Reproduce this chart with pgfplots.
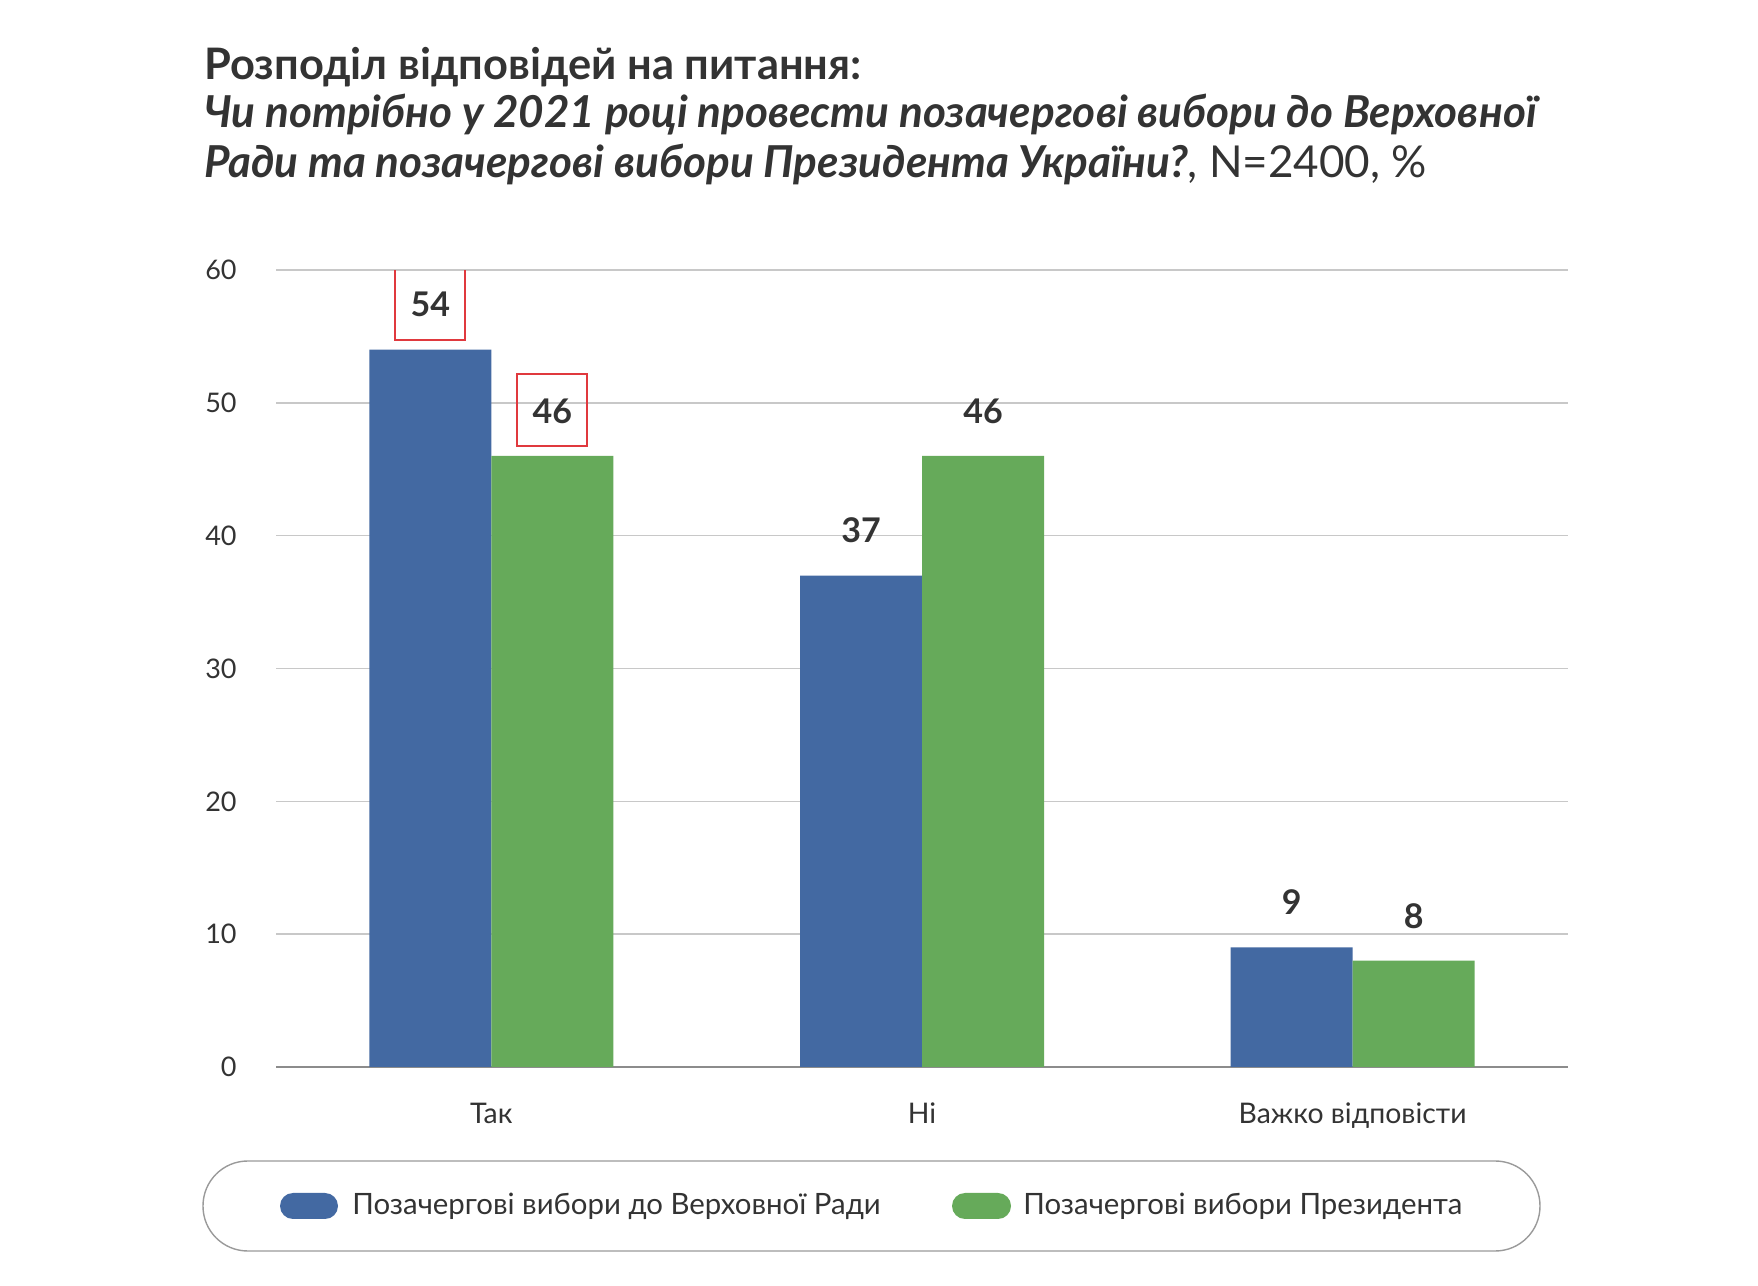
\documentclass[border=0pt]{standalone}
\usepackage{fontspec}
\setmainfont{Lato}
\usepackage{pgfplots}
\pgfplotsset{compat=1.18}
\definecolor{cblue}{HTML}{4369A2}
\definecolor{cgreen}{HTML}{66AA5A}
\definecolor{ctext}{HTML}{333333}
\definecolor{cgrid}{HTML}{C8C8C8}
\definecolor{caxis}{HTML}{8C8C8C}
\definecolor{cred}{HTML}{E0393E}
\definecolor{cbox}{HTML}{9A9A9A}
\begin{document}
\begin{tikzpicture}
\path[use as bounding box] (0,0) rectangle (879pt,643pt);
\node[anchor=base west, inner sep=0, font=\fontsize{21.7}{26}\selectfont\bfseries, text=ctext] at (102pt,603pt) {Розподіл відповідей на питання:};
\node[anchor=base west, inner sep=0, font=\fontsize{22}{26}\selectfont\bfseries\itshape, text=ctext] at (102pt,579pt) {Чи потрібно у 2021 році провести позачергові вибори до Верховної};
\node[anchor=base west, inner sep=0, font=\fontsize{22}{26}\selectfont, text=ctext] at (102pt,554pt) {{\bfseries\itshape Ради та позачергові вибори Президента України?}, N=2400, \%};
\begin{axis}[
  at={(138pt,109.5pt)}, anchor=south west,
  scale only axis, width=646pt, height=398.5pt,
  xmin=-0.5, xmax=2.5, ymin=0, ymax=60,
  ybar=0pt, bar width=61pt,
  axis x line*=bottom, axis y line*=left,
  y axis line style={draw=none},
  x axis line style={caxis, line width=0.8pt, -},
  ytick={0,10,...,60}, ymajorgrids, grid style={cgrid, line width=0.7pt},
  xtick={0,1,2}, xticklabels={Так,Ні,Важко відповісти},
  major tick length=0pt,
  yticklabel style={font=\fontsize{13.5}{13.5}\selectfont, text=ctext, anchor=east, inner sep=0pt, xshift=-19.5pt},
  xticklabel style={font=\fontsize{14.2}{14.2}\selectfont, text=ctext, anchor=base, inner sep=0pt, yshift=-28.5pt},
  /pgf/number format/assume math mode=true,
  nodes near coords,
  nodes near coords style={font=\fontsize{17}{17}\selectfont\bfseries, text=ctext, anchor=center, yshift=22.5pt},
]
\addplot[fill=cblue, draw=none] coordinates {(0,54) (1,37) (2,9)};
\addplot[fill=cgreen, draw=none] coordinates {(0,46) (1,46) (2,8)};
\node[draw=cred, line width=1.1pt, minimum width=35pt, minimum height=36pt, xshift=-30.5pt, yshift=23pt] at (axis cs:0,54) {};
\node[draw=cred, line width=1.1pt, minimum width=35pt, minimum height=36pt, xshift=30.5pt, yshift=23pt] at (axis cs:0,46) {};
\end{axis}
\draw[cbox, line width=0.7pt, rounded corners=22.4pt] (101.5pt,17.5pt) rectangle (770pt,62.5pt);
\fill[cblue, rounded corners=6.5pt] (140pt,33.5pt) rectangle (169pt,46.5pt);
\node[anchor=base west, inner sep=0, font=\fontsize{14.7}{14.7}\selectfont, text=ctext] at (176pt,35.5pt) {Позачергові вибори до Верховної Ради};
\fill[cgreen, rounded corners=6.5pt] (476pt,33.5pt) rectangle (505.5pt,46.5pt);
\node[anchor=base west, inner sep=0, font=\fontsize{14.7}{14.7}\selectfont, text=ctext] at (511.5pt,35.5pt) {Позачергові вибори Президента};
\end{tikzpicture}
\end{document}
